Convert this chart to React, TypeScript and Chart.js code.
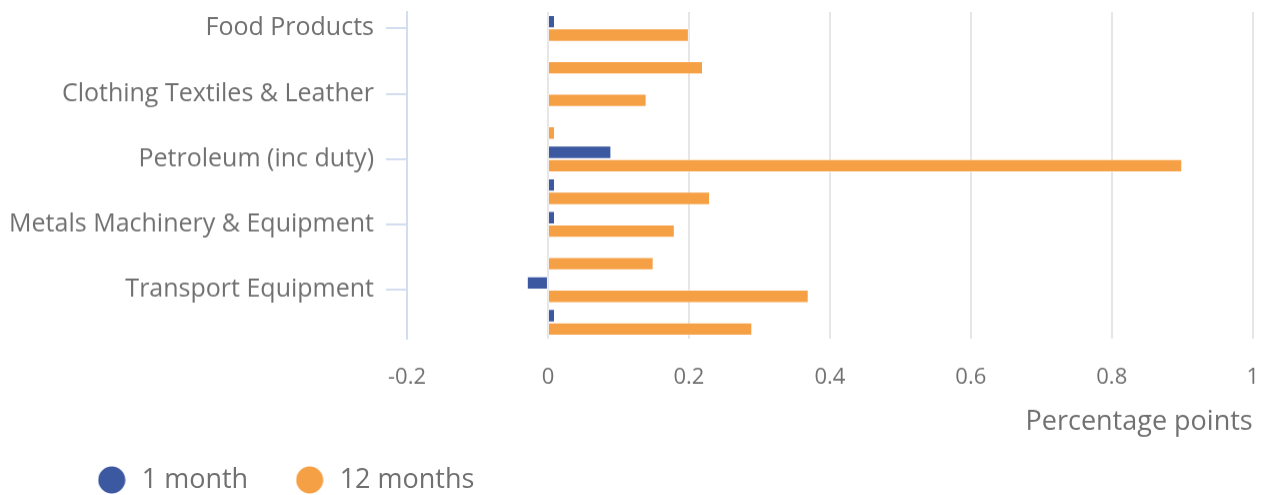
import React, { useEffect, useRef } from "react";
import { Chart, registerables } from "chart.js";

Chart.register(...registerables);

const categories = [
  "Food Products",
  "Tobacco & Alcohol",
  "Clothing Textiles & Leather",
  "Paper & Printing",
  "Petroleum (inc duty)",
  "Chemicals & Pharmaceutical",
  "Metals Machinery & Equipment",
  "Computer Electrical & Optical",
  "Transport Equipment",
  "Other Manufactured Products",
];
const oneMonth = [0.01, 0, 0, 0, 0.09, 0.01, 0.01, 0, -0.03, 0.01];
const twelveMonths = [0.2, 0.22, 0.14, 0.01, 0.9, 0.23, 0.18, 0.15, 0.37, 0.29];
const seriesNames = ["1 month", "12 months"];
const seriesColors = ["#3b58a0", "#f6a046"];

const TEXT = "#707070";
const FONT = "'Open Sans', sans-serif";
const LEGEND_SHIFT = 42.2;

function circleImage(color: string) {
  const c = document.createElement("canvas");
  c.width = 28;
  c.height = 28;
  const g = c.getContext("2d")!;
  g.fillStyle = color;
  g.beginPath();
  g.arc(14, 14, 13.5, 0, Math.PI * 2);
  g.fill();
  return c;
}

const legendShift = {
  id: "legendShift",
  afterLayout(chart: any) {
    const l = chart.legend;
    if (l) {
      l.left += LEGEND_SHIFT;
      l.right += LEGEND_SHIFT;
    }
  },
};

export default function App() {
  const ref = useRef<HTMLCanvasElement>(null);
  useEffect(() => {
    if (!ref.current) return;
    const imgs = seriesColors.map(circleImage);
    const chart = new Chart(ref.current, {
      type: "bar",
      data: {
        labels: categories,
        datasets: [
          {
            label: seriesNames[0],
            data: oneMonth,
            backgroundColor: seriesColors[0],
            borderColor: "rgba(255,255,255,0.45)",
            borderWidth: 1,
            borderSkipped: false,
            categoryPercentage: 0.82,
            barPercentage: 1,
          },
          {
            label: seriesNames[1],
            data: twelveMonths,
            backgroundColor: seriesColors[1],
            borderColor: "rgba(255,255,255,0.45)",
            borderWidth: 1,
            borderSkipped: false,
            categoryPercentage: 0.82,
            barPercentage: 1,
          },
        ],
      },
      plugins: [legendShift],
      options: {
        indexAxis: "y",
        animation: false,
        responsive: true,
        maintainAspectRatio: false,
        layout: { padding: { left: 0, top: 4, right: 0, bottom: 0 } },
        plugins: {
          tooltip: { enabled: false },
          legend: {
            position: "bottom",
            align: "start",
            labels: {
              usePointStyle: true,
              pointStyleWidth: 33,
              boxHeight: 22,
              padding: 45,
              color: TEXT,
              font: { family: FONT, size: 27 },
              generateLabels: (ch: any) =>
                ch.data.datasets.map((ds: any, i: number) => ({
                  text: ds.label,
                  fillStyle: seriesColors[i],
                  strokeStyle: seriesColors[i],
                  lineWidth: 0,
                  pointStyle: imgs[i],
                  hidden: false,
                  datasetIndex: i,
                  fontColor: TEXT,
                })),
            },
          },
        },
        scales: {
          x: {
            min: -0.2,
            max: 1,
            ticks: {
              stepSize: 0.2,
              padding: 0,
              color: TEXT,
              font: { family: FONT, size: 22, lineHeight: "78px" },
              callback: (v: any) => {
                const n = Math.round(Number(v) * 10) / 10;
                return String(n);
              },
            },
            grid: {
              drawTicks: false,
              tickLength: 0,
              lineWidth: 2,
              color: (ctx: any) =>
                ctx.tick && Math.abs(ctx.tick.value + 0.2) < 1e-6 ? "rgba(0,0,0,0)" : "#e6e6e6",
            },
            border: { display: false },
            title: {
              display: true,
              text: "Percentage points",
              align: "end",
              color: TEXT,
              font: { family: FONT, size: 27 },
              padding: { top: 0, bottom: -17.5 },
            },
            afterFit: (s: any) => {
              s.height = 82.5;
            },
          },
          y: {
            ticks: {
              autoSkip: false,
              padding: 0,
              color: TEXT,
              font: { family: FONT, size: 25, lineHeight: 0.01 },
              callback: (_v: any, i: number) => (i % 2 === 0 ? categories[i] : null),
            },
            grid: {
              offset: false,
              drawOnChartArea: false,
              drawTicks: true,
              tickLength: 33,
              tickBorderDash: [21, 12],
              tickBorderDashOffset: 21,
              lineWidth: 2,
              color: "#d3ddf0",
            },
            border: { display: true, color: "#d3ddf0", width: 2 },
            afterFit: (s: any) => {
              s.width = 399;
            },
          },
        },
      },
    });
    return () => chart.destroy();
  }, []);
  return (
    <div style={{ width: 1251, height: 494.5, position: "relative" }}>
      <canvas ref={ref} />
    </div>
  );
}
